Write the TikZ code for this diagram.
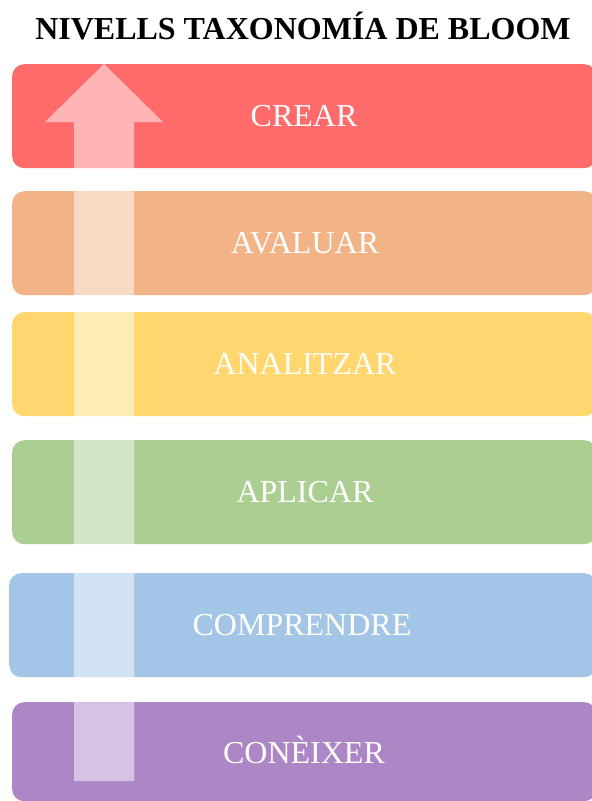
\documentclass[tikz,border=0pt]{standalone}
\usepackage{fontspec}
\setmainfont{Liberation Serif}
\definecolor{cRed}{HTML}{FF6B6B}
\definecolor{cOrange}{HTML}{F2B387}
\definecolor{cYellow}{HTML}{FFD76E}
\definecolor{cGreen}{HTML}{ACCE92}
\definecolor{cBlue}{HTML}{A3C5E6}
\definecolor{cPurple}{HTML}{AD86C6}
\tikzset{
  levelbox/.style={draw=none, rounded corners=12pt, inner sep=0pt, anchor=north west},
  levellabel/.style={text=white, anchor=base, inner sep=0pt, font=\fontsize{32}{36}\selectfont},
  titlelabel/.style={text=black, anchor=base, inner sep=0pt, font=\bfseries\fontsize{32}{38}\selectfont},
  uparrow/.style={fill=white, fill opacity=0.5, draw=none}
}
\begin{document}
\begin{tikzpicture}[x=1pt,y=-1pt]
\useasboundingbox[fill=white] (0,0) rectangle (592,801);
\begin{scope}
\clip (0,0) rectangle (592,801);
\node[titlelabel] (title) at (303,39) {NIVELLS TAXONOMÍA DE BLOOM};
% level boxes
\node[levelbox, fill=cRed, minimum width=584pt, minimum height=104pt] (b1) at (12,64) {};
\node[levelbox, fill=cOrange, minimum width=584pt, minimum height=104pt] (b2) at (12,191) {};
\node[levelbox, fill=cYellow, minimum width=584pt, minimum height=104pt] (b3) at (12,312) {};
\node[levelbox, fill=cGreen, minimum width=584pt, minimum height=104pt] (b4) at (12,440) {};
\node[levelbox, fill=cBlue, minimum width=587pt, minimum height=104pt] (b5) at (9,573) {};
\node[levelbox, fill=cPurple, minimum width=584pt, minimum height=99pt] (b6) at (12,702) {};
% labels
\node[levellabel] (l1) at (304,126.5) {CREAR};
\node[levellabel] (l2) at (305,253.5) {AVALUAR};
\node[levellabel] (l3) at (305,374.5) {ANALITZAR};
\node[levellabel] (l4) at (305,502.5) {APLICAR};
\node[levellabel] (l5) at (302,635.5) {COMPRENDRE};
\node[levellabel] (l6) at (304,763) {CONÈIXER};
% arrow
\fill[uparrow] (74,781) -- (74,122) -- (45,122) -- (104,64) -- (163,122) -- (134,122) -- (134,781) -- cycle;
\end{scope}
\end{tikzpicture}
\end{document}
